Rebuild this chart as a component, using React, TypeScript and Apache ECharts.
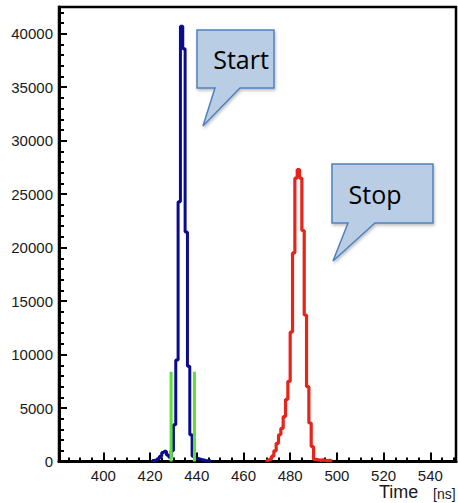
import React, { useEffect, useRef } from "react";
import * as echarts from "echarts";

// ---- data ----
const xMin = 381;
const xMax = 551;
const yMax = 42500;
const xLabelValues = [400, 420, 440, 460, 480, 500, 520, 540];
const yLabelValues = [0, 5000, 10000, 15000, 20000, 25000, 30000, 35000, 40000];

// Start histogram (1 ns bins starting at blueStart)
const blueStart = 421;
const blueCounts = [100, 150, 250, 500, 850, 950, 600, 400, 1000, 3430, 9500, 24300, 40700, 38600, 21450, 8900, 2500, 500, 300, 250, 200, 150, 100, 80, 60];

// Stop histogram (1 ns bins starting at redStart)
const redStart = 470;
const redCounts = [100, 200, 500, 1000, 1700, 2500, 3100, 4200, 5800, 7500, 12100, 19500, 26500, 27300, 26500, 21600, 13700, 7000, 3600, 1400, 200, 150, 100, 150, 100, 80, 100, 50];

// gate lines
const gateTimes = [429, 439];
const gateHeight = 8400;

function toSteps(start: number, counts: number[]) {
  const pts: number[][] = [[start, 0]];
  counts.forEach((c, i) => pts.push([start + i, c]));
  pts.push([start + counts.length, counts[counts.length - 1]]);
  pts.push([start + counts.length, 0]);
  return pts;
}

function range(a: number, b: number, step: number) {
  const out: number[] = [];
  for (let v = a; v <= b; v += step) out.push(v);
  return out;
}

const LABEL_FONT = "'Liberation Sans', Arial, Helvetica, sans-serif";

export default function App() {
  const ref = useRef<HTMLDivElement>(null);
  useEffect(() => {
    if (!ref.current) return;
    const chart = echarts.init(ref.current, undefined, { renderer: "svg" });
    const xMinor = range(385, 550, 5);
    const yMinor = range(0, 42000, 1000);
    const callout = (pts: number[][]) => ({
      type: "polygon",
      shape: { points: pts },
      style: {
        fill: "#b9cde5",
        stroke: "#4f81bd",
        lineWidth: 1.5,
        shadowColor: "rgba(0,0,0,0.25)",
        shadowBlur: 3,
        shadowOffsetX: 1,
        shadowOffsetY: 2,
      },
      z: 100,
    });
    const calloutText = (text: string, x: number, y: number) => ({
      type: "text",
      x,
      y,
      z: 101,
      style: {
        text,
        font: "25px 'Open Sans', 'Noto Sans', sans-serif",
        fill: "#000",
        align: "center",
        verticalAlign: "middle",
        textAlign: "center",
        textVerticalAlign: "middle",
      },
    });
    const plain = (v: number) => String(v);
    chart.setOption({
      animation: false,
      grid: {
        left: 59,
        right: 2,
        top: 7,
        bottom: 41.5,
        show: true,
        borderColor: "#000",
        borderWidth: 2.5,
        backgroundColor: "transparent",
      },
      xAxis: [
        {
          type: "value",
          min: xMin,
          max: xMax,
          position: "bottom",
          axisLine: { show: true, onZero: false, lineStyle: { color: "#000", width: 3 } },
          axisTick: { show: true, inside: true, length: 9, customValues: xLabelValues, lineStyle: { color: "#000", width: 2 } },
          axisLabel: { customValues: xLabelValues, formatter: plain, color: "#1a1a1a", fontSize: 15, lineHeight: 15, fontFamily: LABEL_FONT, margin: 6 },
          splitLine: { show: false },
        },
        {
          type: "value",
          min: xMin,
          max: xMax,
          position: "bottom",
          axisLine: { show: false },
          axisTick: { show: true, inside: true, length: 4, customValues: xMinor, lineStyle: { color: "#000", width: 2 } },
          axisLabel: { show: false },
          splitLine: { show: false },
        },
      ],
      yAxis: [
        {
          type: "value",
          min: 0,
          max: yMax,
          position: "left",
          axisLine: { show: true, onZero: false, lineStyle: { color: "#000", width: 3 } },
          axisTick: { show: true, inside: true, length: 8, customValues: yLabelValues, lineStyle: { color: "#000", width: 2 } },
          axisLabel: { customValues: yLabelValues, formatter: plain, color: "#1a1a1a", fontSize: 15, fontFamily: LABEL_FONT, margin: 6 },
          splitLine: { show: false },
        },
        {
          type: "value",
          min: 0,
          max: yMax,
          position: "left",
          axisLine: { show: false },
          axisTick: { show: true, inside: true, length: 5, customValues: yMinor, lineStyle: { color: "#000", width: 2 } },
          axisLabel: { show: false },
          splitLine: { show: false },
        },
      ],
      series: [
        {
          type: "line",
          step: "end",
          data: toSteps(blueStart, blueCounts),
          symbol: "none",
          lineStyle: { color: "#0b0b8f", width: 3 },
          xAxisIndex: 0,
          yAxisIndex: 0,
          z: 3,
        },
        {
          type: "line",
          step: "end",
          data: toSteps(redStart, redCounts),
          symbol: "none",
          lineStyle: { color: "#e8231a", width: 3.2 },
          xAxisIndex: 0,
          yAxisIndex: 0,
          z: 3,
        },
        ...gateTimes.map((t) => ({
          type: "line",
          data: [
            [t, 0],
            [t, gateHeight],
          ],
          symbol: "none",
          lineStyle: { color: "#5ee03a", width: 3 },
          xAxisIndex: 0,
          yAxisIndex: 0,
          z: 4,
        })),
      ],
      graphic: [
        callout([
          [197, 30],
          [274, 30],
          [274, 88],
          [240, 88],
          [203, 126],
          [215, 88],
          [197, 88],
        ]),
        calloutText("Start", 241, 59),
        callout([
          [332, 164],
          [433, 164],
          [433, 223],
          [375, 223],
          [333, 261],
          [348, 223],
          [332, 223],
        ]),
        calloutText("Stop", 375, 194),
        {
          type: "text",
          left: 379,
          top: 483,
          style: { text: "Time", font: `18px ${LABEL_FONT}`, fill: "#1a1a1a" },
        },
        {
          type: "text",
          left: 433,
          top: 487,
          style: { text: "[ns]", font: `14px ${LABEL_FONT}`, fill: "#1a1a1a" },
        },
      ],
    });
    return () => chart.dispose();
  }, []);
  return (
    <div
      ref={ref}
      style={{ position: "fixed", left: 0, top: 0, width: 458, height: 503, background: "#fff" }}
    />
  );
}
